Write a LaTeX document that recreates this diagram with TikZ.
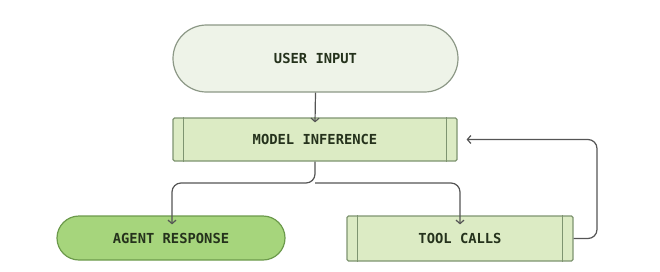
\documentclass[tikz,border=0pt]{standalone}
\usepackage{fontspec}
\setmonofont{DejaVu Sans Mono}
\usetikzlibrary{arrows.meta,shapes.misc}
\definecolor{lineGray}{HTML}{555555}
\definecolor{pillLight}{HTML}{EEF3E8}
\definecolor{pillLightBorder}{HTML}{8C9886}
\definecolor{boxFill}{HTML}{DCEBC4}
\definecolor{boxBorder}{HTML}{7E9470}
\definecolor{agentFill}{HTML}{A6D57C}
\definecolor{agentBorder}{HTML}{6C9A4C}
\definecolor{textDark}{HTML}{25321C}
\begin{document}
\begin{tikzpicture}[x=1pt,y=-1pt,
  lbl/.style={font=\ttfamily\bfseries\fontsize{13.8}{15}\selectfont, text=textDark},
  pill/.style={rounded rectangle, draw, line width=1.2pt, inner sep=0pt, lbl},
  procbox/.style={rectangle, draw=boxBorder, fill=boxFill, line width=1.2pt, rounded corners=1.5pt, inner sep=0pt, lbl},
  conn/.style={draw=lineGray, line width=1.2pt, rounded corners=9pt, -{Straight Barb[length=3.5pt,width=8pt]}}
]
\useasboundingbox (0,0) rectangle (660,271);
\node[pill, draw=pillLightBorder, fill=pillLight, minimum width=285pt, minimum height=67pt] (ui) at (315.5,58.5) {USER INPUT};
\node[procbox, minimum width=284pt, minimum height=43pt] (mi) at (315,139.5) {MODEL INFERENCE};
\draw[boxBorder, line width=1.2pt] ([xshift=11pt]mi.north west) -- ([xshift=11pt]mi.south west);
\draw[boxBorder, line width=1.2pt] ([xshift=-11pt]mi.north east) -- ([xshift=-11pt]mi.south east);
\node[pill, draw=agentBorder, fill=agentFill, minimum width=228pt, minimum height=44pt] (ar) at (171,238) {AGENT RESPONSE};
\node[procbox, minimum width=226pt, minimum height=45pt] (tc) at (460,238.5) {TOOL CALLS};
\draw[boxBorder, line width=1.2pt] ([xshift=11pt]tc.north west) -- ([xshift=11pt]tc.south west);
\draw[boxBorder, line width=1.2pt] ([xshift=-11pt]tc.north east) -- ([xshift=-11pt]tc.south east);
\coordinate (split) at (315,183);
\coordinate (fb) at (597,0);
\draw[conn] (ui.south) -- ([yshift=-5pt]mi.north);
\draw[conn] (mi.south) -- (split) -| ([yshift=-9pt]ar.north -| 172,0);
\draw[conn] (split) -| ([yshift=-9pt]tc.north);
\draw[conn] (tc.east) -| (fb |- mi.east) -- ([xshift=9pt]mi.east);
\end{tikzpicture}
\end{document}
